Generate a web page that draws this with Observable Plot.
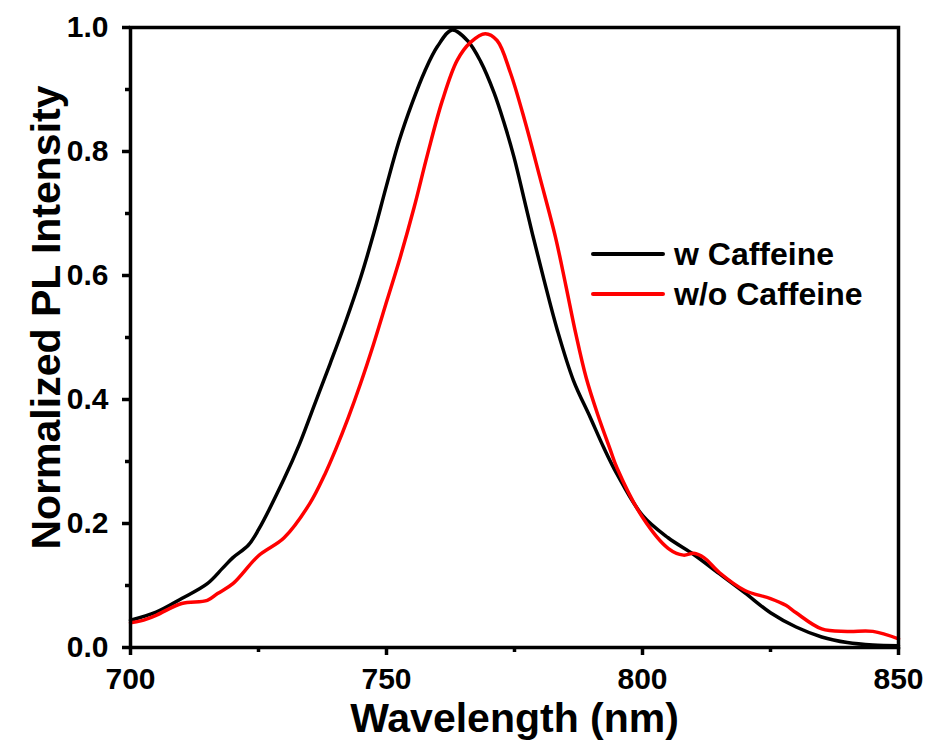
<!DOCTYPE html>
<html>
<head>
<meta charset="utf-8">
<script src="https://cdn.jsdelivr.net/npm/d3@7"></script>
<script src="https://cdn.jsdelivr.net/npm/@observablehq/plot@0.6"></script>
<style>
  html, body { margin: 0; padding: 0; background: #fff; }
  #wrap { position: relative; width: 929px; height: 747px; font-family: "Liberation Sans", Arial, sans-serif; }
  #legend { position: absolute; left: 591px; top: 234px; }
  .row { display: flex; align-items: center; height: 40px; }
  .sw { width: 74px; height: 4px; border-radius: 2px; margin-right: 9px; }
  .lab { font-size: 32px; font-weight: bold; line-height: 40px; color: #000; white-space: nowrap; }
</style>
</head>
<body>
<div id="wrap"></div>
<script>
// Wavelength (nm) and normalized PL intensity, "w Caffeine"
const wlWith  = [700, 705, 710, 715, 718, 720, 723, 725, 730, 733, 736, 739, 742, 745, 747.5, 750, 752.5, 755, 757.5, 760, 762.8, 765.8, 768.4, 771, 772.9, 774.9, 776.8, 778.5, 780.7, 783.4, 786.5, 789.8, 792.4, 795, 800, 805, 810, 815, 820, 825, 830, 835, 840, 845, 850];
const intWith = [0.044, 0.057, 0.079, 0.103, 0.128, 0.145, 0.165, 0.19, 0.272, 0.328, 0.393, 0.458, 0.525, 0.598, 0.668, 0.745, 0.818, 0.878, 0.93, 0.97, 0.996, 0.979, 0.945, 0.895, 0.848, 0.791, 0.726, 0.667, 0.595, 0.511, 0.431, 0.371, 0.323, 0.28, 0.213, 0.177, 0.15, 0.119, 0.088, 0.056, 0.033, 0.017, 0.008, 0.004, 0.003];

// "w/o Caffeine"
const wlWithout  = [700, 702, 705, 710, 715, 717, 720, 725, 730, 735, 738, 740, 742.5, 744.9, 747.5, 750.1, 752.7, 755.4, 758, 760.9, 763.8, 766.4, 769.3, 771.6, 774.2, 777, 780, 783, 785, 787, 789, 791.2, 793.75, 795, 800, 805, 808, 810, 812, 815, 820, 825, 828, 830, 835, 840, 845, 850];
const intWithout = [0.040, 0.043, 0.052, 0.071, 0.076, 0.087, 0.103, 0.148, 0.177, 0.232, 0.28, 0.318, 0.37, 0.425, 0.49, 0.56, 0.63, 0.71, 0.795, 0.882, 0.947, 0.976, 0.99, 0.979, 0.927, 0.85, 0.757, 0.662, 0.585, 0.505, 0.435, 0.377, 0.318, 0.29, 0.21, 0.16, 0.149, 0.152, 0.145, 0.121, 0.092, 0.079, 0.068, 0.056, 0.03, 0.026, 0.026, 0.014];

const seriesNames  = ["w Caffeine", "w/o Caffeine"];
const seriesColors = ["#000000", "#ff0000"];

const xMajor = [700, 750, 800, 850];
const xMinor = [725, 775, 825];
const yMajor = [0, 0.2, 0.4, 0.6, 0.8, 1.0];
const yMinor = [0.1, 0.3, 0.5, 0.7, 0.9];

const xTitle = "Wavelength (nm)";
const yTitle = "Normalized PL Intensity";

const data = [
  ...wlWith.map((w, i) => ({wl: w, v: intWith[i], s: seriesNames[0]})),
  ...wlWithout.map((w, i) => ({wl: w, v: intWithout[i], s: seriesNames[1]}))
];

const font = "\"Liberation Sans\", Arial, sans-serif";

const chart = Plot.plot({
  width: 929,
  height: 747,
  marginLeft: 130,
  marginRight: 31,
  marginTop: 27,
  marginBottom: 100,
  style: {fontFamily: font, background: "#fff", color: "#000"},
  x: {domain: [700, 850]},
  y: {domain: [0, 1]},
  color: {domain: seriesNames, range: seriesColors},
  marks: [
    Plot.line(data, {x: "wl", y: "v", z: "s", stroke: "s", strokeWidth: 3.5, curve: "catmull-rom"}),
    Plot.frame({stroke: "#000", strokeWidth: 3.5}),
    Plot.axisX({ticks: xMajor, tickSize: 8, tickPadding: 12, strokeWidth: 3.5, fontSize: 30, fontWeight: "bold", label: null, tickFormat: d3.format("d")}),
    Plot.axisX({ticks: xMinor, tickSize: 5, strokeWidth: 3.5, text: null, label: null}),
    Plot.axisY({ticks: yMajor, tickSize: 8, tickPadding: 14, strokeWidth: 3.5, fontSize: 30, fontWeight: "bold", label: null, tickFormat: d3.format(".1f")}),
    Plot.axisY({ticks: yMinor, tickSize: 5, strokeWidth: 3.5, text: null, label: null}),
    Plot.text([xTitle], {frameAnchor: "bottom", dy: 84, fontSize: 41, fontWeight: "bold", fill: "#000"}),
    Plot.text([yTitle], {frameAnchor: "left", textAnchor: "middle", rotate: -90, dx: -84, dy: -20, fontSize: 41, fontWeight: "bold", fill: "#000"})
  ]
});

const wrap = document.getElementById("wrap");
wrap.appendChild(chart);

const legend = document.createElement("div");
legend.id = "legend";
seriesNames.forEach((name, i) => {
  const row = document.createElement("div");
  row.className = "row";
  const sw = document.createElement("span");
  sw.className = "sw";
  sw.style.background = seriesColors[i];
  const lab = document.createElement("span");
  lab.className = "lab";
  lab.textContent = name;
  row.appendChild(sw);
  row.appendChild(lab);
  legend.appendChild(row);
});
wrap.appendChild(legend);
</script>
</body>
</html>
